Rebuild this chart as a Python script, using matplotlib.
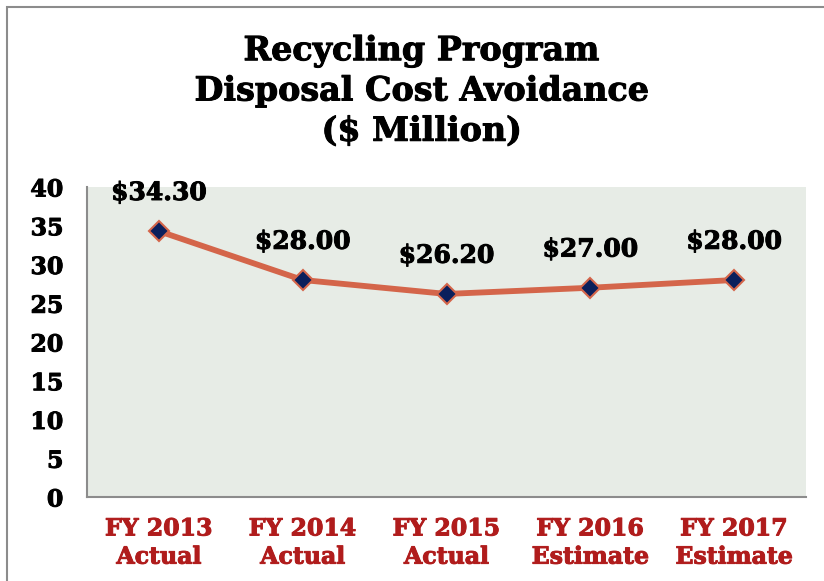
import matplotlib.pyplot as plt
import matplotlib.patheffects as pe
from matplotlib.patches import Rectangle

years = ["FY 2013\nActual", "FY 2014\nActual", "FY 2015\nActual", "FY 2016\nEstimate", "FY 2017\nEstimate"]
cost = [34.30, 28.00, 26.20, 27.00, 28.00]
labels = ["$34.30", "$28.00", "$26.20", "$27.00", "$28.00"]

plt.rcParams['font.family'] = ['DejaVu Serif']

# slightly heavier text, the original uses a very bold face
heavy_k = [pe.withStroke(linewidth=0.7, foreground="black")]
heavy_r = [pe.withStroke(linewidth=0.7, foreground="#b01c1c")]

fig = plt.figure(figsize=(8.24, 5.81), dpi=100)
fig.patches.append(Rectangle((7/824, -0.5), 2, (581-7)/581 + 0.5, transform=fig.transFigure,
                             fill=False, edgecolor="#8c8c8c", linewidth=1.5))

ax = fig.add_axes([87/824, 84/581, 719/824, 310/581])
ax.set_facecolor("#e7ece6")

x = list(range(len(years)))
ax.plot(x, cost, color="#d4654a", linewidth=4.2, marker="D", markersize=10,
        markerfacecolor="#0b1f5c", markeredgecolor="#d4654a", markeredgewidth=1.5, zorder=3)

for i in x:
    ax.annotate(labels[i], (i, cost[i]), xytext=(0, 27.5), textcoords="offset points",
                ha="center", va="center", fontsize=18, fontweight="bold", color="black",
                path_effects=heavy_k)

ax.set_xlim(-0.5, 4.5)
ax.set_ylim(0, 40)
ax.set_yticks(range(0, 41, 5))
ax.set_xticks(x)
ax.set_xticklabels(years, color="#b01c1c", fontsize=17, fontweight="bold", linespacing=1.22)
for t in ax.get_xticklabels():
    t.set_path_effects(heavy_r)
for t in ax.get_yticklabels():
    t.set_fontsize(17)
    t.set_fontweight("bold")
    t.set_path_effects(heavy_k)
ax.tick_params(axis="both", length=0)
ax.tick_params(axis="x", pad=14)
ax.tick_params(axis="y", pad=17)

for s in ["top", "right"]:
    ax.spines[s].set_visible(False)
for s in ["left", "bottom"]:
    ax.spines[s].set_color("#8c8c8c")
    ax.spines[s].set_linewidth(1.5)

fig.text(422/824, 1 - 91/581, "Recycling Program\nDisposal Cost Avoidance\n($ Million)",
         ha="center", va="center", fontsize=24, fontweight="bold", linespacing=1.28,
         path_effects=heavy_k)

fig.savefig("out.png", dpi=100)
